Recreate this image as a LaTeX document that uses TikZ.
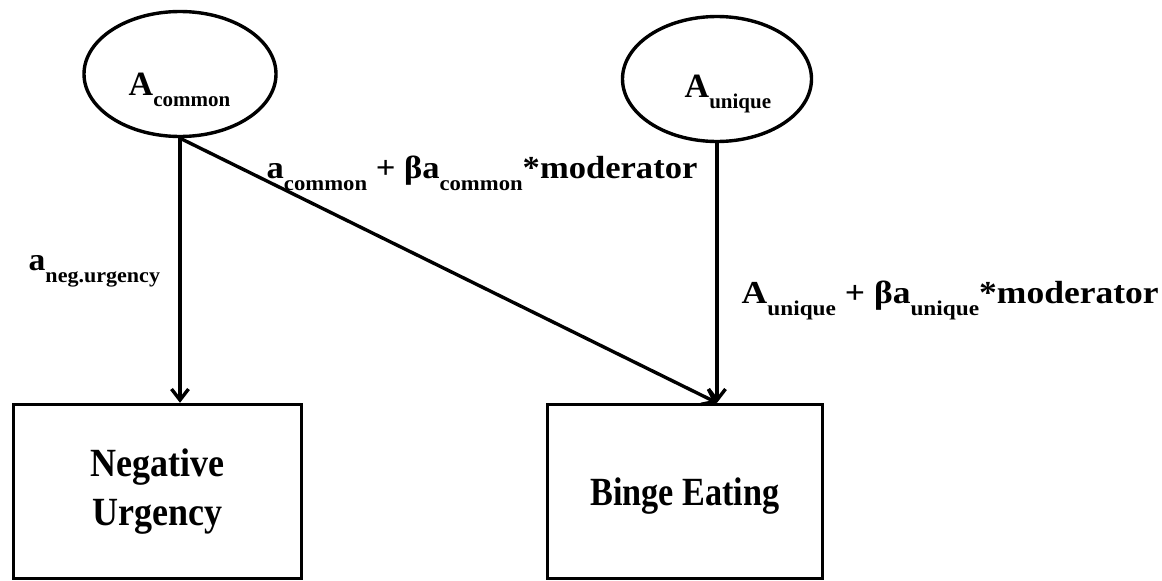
\documentclass[tikz,border=0pt]{standalone}
\usepackage{fontspec}
\setmainfont{Liberation Serif}
\newfontfamily\boxfont[FakeStretch=0.9]{Liberation Serif}
\usetikzlibrary{shapes.geometric,arrows.meta}
\newcommand{\lsub}[2][12pt]{\raisebox{-#1}{\fontsize{21}{21}\selectfont #2}}
\begin{document}
\begin{tikzpicture}[x=1pt,y=-1pt,line width=3.4pt,
  latent/.style={draw,ellipse,minimum width=192pt,minimum height=125pt,inner sep=0pt},
  observed/.style={draw,rectangle,minimum height=174pt,inner sep=0pt,align=center,
    font=\boxfont\bfseries\fontsize{40}{49}\selectfont},
  path/.style={-{Straight Barb[length=11pt,width=17pt,line width=3.4pt]}},
  lbl/.style={font=\bfseries\fontsize{32}{36}\selectfont,inner sep=0pt,anchor=base west}]
\useasboundingbox (0,0) rectangle (1162,581);
% latent variables
\node[latent] (acom) at (180,74) {};
\node[latent,minimum width=189pt] (aunq) at (717,79) {};
\node[lbl] (acomtxt) at (127,95) {\fontsize{34}{36}\selectfont A\lsub[11pt]{common}};
\node[lbl] (aunqtxt) at (683,97) {\fontsize{34}{36}\selectfont A\lsub[11pt]{unique}};
% observed variables
\node[observed,minimum width=288pt] (negurg) at (157.5,491.5) {Negative\\Urgency};
\node[observed,minimum width=275pt,text depth=0pt] (binge) at (685,491.5) {\scalebox{0.95}[1]{Binge Eating}};
% paths
\draw[path] (acom.south) -- (acom.south |- negurg.north);
\draw[path] (acom.south) -- (binge.north -| aunq.south);
\draw[path] (aunq.south) -- (aunq.south |- binge.north);
% path labels
\node[lbl] (lcom) at (265,178) {\scalebox{1.08}[1]{a\lsub{common} + βa\lsub{common}*moderator}};
\node[lbl] (lunq) at (740,303) {\scalebox{1.11}[1]{A\lsub{unique} + βa\lsub{unique}*moderator}};
\node[lbl] (lneg) at (27,270) {\scalebox{1.05}[1]{a\lsub{neg.urgency}}};
\end{tikzpicture}
\end{document}
